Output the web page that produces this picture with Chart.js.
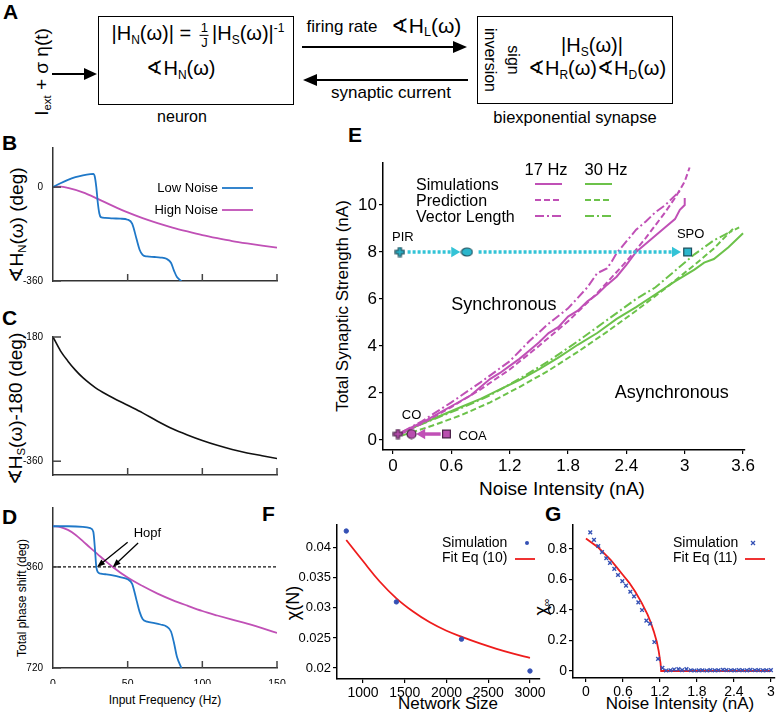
<!DOCTYPE html>
<html>
<head>
<meta charset="utf-8">
<script src="https://cdn.jsdelivr.net/npm/chart.js@4.4.0/dist/chart.umd.min.js"></script>
<style>
body{margin:0;background:#fff;}
#fig{position:relative;width:780px;height:713px;overflow:hidden;font-family:'Liberation Sans',Arial,sans-serif;color:#000;background:#fff;}
canvas{position:absolute;left:0;top:0;}
.t{position:absolute;white-space:nowrap;line-height:1;transform:translate(-50%,-50%);}
.rl{transform:translate(-50%,-50%) rotate(-90deg);}
.rr{transform:translate(-50%,-50%) rotate(90deg);}
.lt{position:absolute;font-weight:bold;font-size:21px;line-height:1;}
sub{font-size:0.6em;vertical-align:-0.3em;line-height:0;}
sup{font-size:0.6em;vertical-align:0.7em;line-height:0;}
.box{position:absolute;border:1.5px solid #000;box-sizing:border-box;}
.frac{display:inline-flex;flex-direction:column;align-items:center;vertical-align:middle;font-size:13px;line-height:1.05;margin:0 3px;}
.frac span:first-child{border-bottom:1px solid #000;padding:0 1px;}
</style>
</head>
<body>
<div id="fig">
  <!-- panel A: block diagram -->
  <div class="lt" style="left:3px;top:1px">A</div>
  <div class="box" style="left:98px;top:16px;width:196px;height:89px"></div>
  <div class="box" style="left:477px;top:16px;width:196px;height:88px"></div>
  <div class="t" style="left:198px;top:35px;font-size:20px">|H<sub>N</sub>(ω)| = <span class="frac"><span>1</span><span>J</span></span>|H<sub>S</sub>(ω)|<sup>-1</sup></div>
  <div class="t" style="left:181px;top:68px;font-size:20px">∢H<sub>N</sub>(ω)</div>
  <div class="t" style="left:182px;top:117px;font-size:16px">neuron</div>
  <div class="t" style="left:342px;top:26px;font-size:17px">firing rate</div>
  <div class="t" style="left:426px;top:25px;font-size:21px">∢H<sub>L</sub>(ω)</div>
  <div class="t" style="left:391px;top:92px;font-size:17px">synaptic current</div>
  <div class="t rr" style="left:490px;top:60px;font-size:16px">inversion</div>
  <div class="t rr" style="left:513px;top:60px;font-size:16px">sign</div>
  <div class="t" style="left:592px;top:45px;font-size:20px">|H<sub>S</sub>(ω)|</div>
  <div class="t" style="left:597px;top:68px;font-size:20px">∢H<sub>R</sub>(ω)∢H<sub>D</sub>(ω)</div>
  <div class="t" style="left:575px;top:117px;font-size:16.5px">biexponential synapse</div>
  <div class="t rl" style="left:41px;top:72px;font-size:19px">I<sub>ext</sub> + σ η(t)</div>
  <svg style="position:absolute;left:0;top:0" width="780" height="120">
    <g stroke="#000" stroke-width="2"><line x1="302" y1="47" x2="455" y2="47"/><line x1="468" y1="80" x2="315" y2="80"/><line x1="52" y1="74" x2="86" y2="74"/></g>
    <g fill="#000"><polygon points="453,41 467,47 453,53"/><polygon points="317,74 303,80 317,86"/><polygon points="84,68 97,74 84,80"/></g>
  </svg>

  <!-- panel letters and axis titles -->
  <div class="lt" style="left:2px;top:132px">B</div>
  <div class="lt" style="left:2px;top:307px">C</div>
  <div class="lt" style="left:2px;top:506px">D</div>
  <div class="lt" style="left:348px;top:124px">E</div>
  <div class="lt" style="left:262px;top:503px">F</div>
  <div class="lt" style="left:545px;top:503px">G</div>
  <div class="t rl" style="left:16px;top:225px;font-size:19px">∢H<sub>N</sub>(ω) (deg)</div>
  <div class="t rl" style="left:15px;top:409px;font-size:19px">∢H<sub>S</sub>(ω)-180 (deg)</div>
  <div class="t rl" style="left:22px;top:598px;font-size:12px">Total phase shift (deg)</div>
  <div class="t" style="left:165px;top:700px;font-size:12px">Input Frequency (Hz)</div>
  <div class="t rl" style="left:342px;top:306px;font-size:17px">Total Synaptic Strength (nA)</div>
  <div class="t" style="left:562px;top:488px;font-size:19px">Noise Intensity (nA)</div>
  <div class="t rl" style="left:293px;top:603px;font-size:18px">χ(N)</div>
  <div class="t" style="left:448px;top:703px;font-size:17px">Network Size</div>
  <div class="t rl" style="left:541px;top:607px;font-size:18px">χ<sub>∞</sub></div>
  <div class="t" style="left:680px;top:703px;font-size:17px">Noise Intensity (nA)</div>
</div>
<script>
// ---- data ----
// B: neuron phase (deg) vs input frequency (Hz)
const freqTicks = [0, 50, 100, 150];
const bTicks = [-360, 0];
const cTicks = [-360, -180];
const dTicks = [360, 720];
const bLowFreq = [0,5,10,15,20,25,27,28,29,30,31,32,35,40,45,50,53,56,58,60,63,68,72,76,79,81,83,86];
const bLowPhase = [0,15,28,38,45,50,51,40,0,-60,-100,-115,-118,-120,-121,-125,-140,-200,-240,-260,-266,-268,-270,-275,-290,-320,-345,-360];
const bHighFreq = [0,5,10,20,30,40,50,60,70,80,90,100,110,120,130,140,150];
const bHighPhase = [0,2,-3,-20,-45,-72,-97,-119,-138,-155,-170,-184,-196,-207,-216,-224,-232];
// C: synapse phase
const cFreq = [0,5,10,15,20,25,30,40,50,60,70,80,90,100,110,120,130,140,150];
const cPhase = [-180,-200,-215,-228,-239,-248,-256,-268,-279,-290,-302,-313,-322,-330,-337,-343,-348,-352,-356];
// D: total phase shift
const dLowFreq = [0,10,20,25,27,28,29,30,32,35,40,45,50,53,56,58,60,63,68,72,76,79,81,83,86];
const dLowPhase = [215,215,217,222,235,290,360,378,384,386,390,396,404,420,480,520,545,555,560,565,572,590,630,680,720];
const dHighFreq = [0,5,10,15,20,25,30,35,40,50,60,70,80,90,100,110,120,130,140,150];
const dHighPhase = [215,218,228,245,268,292,315,338,360,398,428,455,478,498,517,533,548,562,578,595];
const dRefFreq = [0, 150];
const dRefPhase = [360, 360];
const hopfFreq = [29.5, 40];
// E: synaptic strength vs noise intensity
const eXTicks = [0, 0.6, 1.2, 1.8, 2.4, 3, 3.6];
const eYTicks = [0, 2, 4, 6, 8, 10];
const ePurpleSimX = [0.08,0.2,0.35,0.5,0.65,0.8,0.9,1.0,1.1,1.2,1.3,1.4,1.5,1.6,1.7,1.8,1.9,2.0,2.1,2.2,2.3,2.4,2.5,2.6,2.7,2.8,2.9,2.95,3.0,3.0];
const ePurpleSimY = [0.3,0.55,0.85,1.2,1.55,1.9,2.25,2.6,2.85,3.15,3.45,3.8,4.15,4.55,4.8,5.25,5.5,5.9,6.2,6.6,6.95,7.45,8.0,8.35,8.7,9.05,9.4,9.8,10.0,10.3];
const ePurplePredX = [0.08,0.3,0.6,0.9,1.2,1.5,1.8,2.1,2.4,2.6,2.8,2.9,3.0,3.05];
const ePurplePredY = [0.25,0.7,1.4,2.15,3.0,4.0,5.05,6.25,7.6,8.6,9.7,10.3,11.0,11.6];
const ePurpleVecX = [0.1,0.3,0.6,0.9,1.2,1.4,1.6,1.8,2.0,2.1,2.2,2.25,2.3,2.4,2.5,2.6,2.7,2.8,2.9,2.95];
const ePurpleVecY = [0.35,0.8,1.6,2.45,3.35,4.2,4.95,5.6,6.5,7.1,7.3,7.6,7.95,8.45,8.95,9.3,9.7,10.0,10.4,10.6];
const eGreenSimX = [0.1,0.3,0.5,0.7,0.9,1.1,1.3,1.5,1.7,1.9,2.1,2.3,2.5,2.7,2.9,3.1,3.2,3.3,3.45,3.6];
const eGreenSimY = [0.3,0.7,1.05,1.4,1.75,2.15,2.55,3.0,3.5,4.05,4.55,5.15,5.65,6.2,6.75,7.25,7.55,7.7,8.2,8.8];
const eGreenPredX = [0.1,0.4,0.7,1.0,1.3,1.6,1.9,2.2,2.5,2.8,3.1,3.3,3.5];
const eGreenPredY = [0.2,0.6,1.05,1.6,2.25,2.95,3.75,4.6,5.5,6.45,7.45,8.15,9.0];
const eGreenVecX = [0.1,0.4,0.7,1.0,1.3,1.6,1.9,2.2,2.5,2.7,2.9,3.1,3.3,3.56];
const eGreenVecY = [0.35,0.85,1.35,1.9,2.6,3.35,4.2,5.1,6.0,6.5,7.2,7.9,8.5,9.05];
const eSyncX = [0.07, 0.76, 3.03];   // PIR -> SPO markers
const eSyncY = [8, 8, 8];
const eSyncArrow1X = [0.15, 0.63];
const eSyncArrow2X = [0.88, 2.9];
const eCoX = [0.05, 0.19, 0.55];     // CO / COA markers
const eCoY = [0.25, 0.25, 0.25];
const eCoArrowX = [0.49, 0.3];
// F: chi vs network size
const fXTicks = [1000, 1500, 2000, 2500, 3000];
const fYTicks = [0.02, 0.025, 0.03, 0.035, 0.04];
const fSimN = [800, 1400, 2180, 3000];
const fSimChi = [0.0428, 0.031, 0.0248, 0.0195];
const fFitN = [800,1000,1200,1400,1600,1800,2000,2200,2400,2600,2800,3000];
const fFitChi = [0.0413,0.0378,0.0344,0.0316,0.0294,0.0276,0.0262,0.0251,0.0241,0.0232,0.0224,0.0217];
// G: chi_inf vs noise
const gXTicks = [0, 0.6, 1.2, 1.8, 2.4, 3];
const gYTicks = [0, 0.2, 0.4, 0.6, 0.8];
const gSimX = [0.07,0.13,0.2,0.26,0.33,0.39,0.46,0.52,0.59,0.65,0.72,0.78,0.85,0.91,0.98,1.04,1.11,1.17,1.24,1.3,1.37,1.43,1.5,1.56,1.63,1.7,1.76,1.83,1.89,1.96,2.02,2.09,2.15,2.22,2.28,2.35,2.41,2.48,2.54,2.61,2.67,2.74,2.8,2.87,2.93,3.0];
const gSimY = [0.91,0.86,0.82,0.78,0.74,0.71,0.67,0.63,0.59,0.56,0.52,0.49,0.45,0.40,0.33,0.31,0.19,0.08,0.02,0.003,0.005,0.01,0.012,0.006,0.012,0.005,0.003,0.004,0.005,0.003,0.006,0.004,0.005,0.008,0.006,0.005,0.004,0.006,0.005,0.004,0.007,0.005,0.006,0.004,0.005,0.006];
const gFitX = [0,0.1,0.2,0.3,0.4,0.5,0.6,0.7,0.8,0.9,1.0,1.05,1.1,1.15,1.18,1.21,1.22,1.6,2.0,2.5,3.0];
const gFitY = [0.87,0.84,0.81,0.77,0.73,0.68,0.63,0.58,0.52,0.45,0.37,0.32,0.26,0.19,0.13,0.05,0,0,0,0,0];

// ---- style ----
const BLUE = '#1f78c8', PURPLE = '#c050b6', GREEN = '#6cc24a', CYAN = '#33c3d6';
const RED = '#ee1c1c', DOTBLUE = '#3551b5';
const W = 780, H = 713;
const FONT = "'Liberation Sans', Arial, sans-serif";
Chart.defaults.font.family = FONT;
Chart.defaults.color = '#000';

function F(s, w) { return (w || '') + ' ' + s + 'px ' + FONT; }
function pts(xs, ys) { return xs.map((x, i) => ({x: x, y: ys[i]})); }
function newCanvas() {
  const c = document.createElement('canvas');
  c.width = W; c.height = H;
  document.getElementById('fig').appendChild(c);
  return c;
}
function line(c, x1, y1, x2, y2) { c.beginPath(); c.moveTo(x1, y1); c.lineTo(x2, y2); c.stroke(); }
function arrow(c, x1, y1, x2, y2, len, wid) {
  const a = Math.atan2(y2 - y1, x2 - x1);
  line(c, x1, y1, x2 - Math.cos(a) * len * 0.8, y2 - Math.sin(a) * len * 0.8);
  c.beginPath(); c.moveTo(x2, y2);
  c.lineTo(x2 - len * Math.cos(a) + wid / 2 * Math.sin(a), y2 - len * Math.sin(a) - wid / 2 * Math.cos(a));
  c.lineTo(x2 - len * Math.cos(a) - wid / 2 * Math.sin(a), y2 - len * Math.sin(a) + wid / 2 * Math.cos(a));
  c.closePath(); c.fill();
}
function plusImg(fill, stroke, s) {
  const c = document.createElement('canvas'); c.width = c.height = s;
  const g = c.getContext('2d'), a = s / 3 + 0.3, b = 2 * s / 3 - 0.3, m = 1, e = s - 1;
  const p = [[a,m],[b,m],[b,a],[e,a],[e,b],[b,b],[b,e],[a,e],[a,b],[m,b],[m,a],[a,a]];
  g.beginPath(); p.forEach((q, i) => i ? g.lineTo(q[0], q[1]) : g.moveTo(q[0], q[1])); g.closePath();
  g.fillStyle = fill; g.fill(); g.strokeStyle = stroke; g.lineWidth = 1.2; g.stroke();
  return c;
}
function ellipseImg(fill, stroke, w, h) {
  const c = document.createElement('canvas'); c.width = w; c.height = h;
  const g = c.getContext('2d');
  g.beginPath(); g.ellipse(w / 2, h / 2, w / 2 - 1, h / 2 - 1, 0, 0, Math.PI * 2);
  g.fillStyle = fill; g.fill(); g.strokeStyle = stroke; g.lineWidth = 1.2; g.stroke();
  return c;
}

// fixed plot area: chart area lands exactly on the page pixels given
function frame(area, yW, xH) {
  return {left: area.l - yW, top: area.t, right: W - area.r, bottom: H - area.b - xH};
}
function outAxis(min, max, ticks, size, fs, extra) {
  return Object.assign({
    type: 'linear', min: min, max: max,
    afterBuildTicks: s => { s.ticks = ticks.map(v => ({value: v})); },
    afterFit: s => { if (s.isHorizontal()) s.height = size; else s.width = size; },
    grid: {display: true, drawOnChartArea: false, drawTicks: true, tickLength: 4, color: '#000', lineWidth: 1.2},
    border: {display: true, color: '#000', width: 1.5},
    ticks: {font: {size: fs}, color: '#000', padding: 2, autoSkip: false, maxRotation: 0, callback: v => String(v)}
  }, extra || {});
}
function inAxis(min, max, ticks, size, fs, showLabels, extra) {
  return Object.assign({
    type: 'linear', min: min, max: max,
    afterBuildTicks: s => { s.ticks = ticks.map(v => ({value: v})); },
    afterFit: s => { if (s.isHorizontal()) s.height = size; else s.width = size; },
    grid: {display: false},
    border: {display: true, color: '#333', width: 1.5},
    ticks: {font: {size: fs}, color: '#000', padding: 2, autoSkip: false, maxRotation: 0,
            callback: v => showLabels ? String(v) : ''}
  }, extra || {});
}
const innerTicks = {
  id: 'innerTicks',
  afterDraw(ch) {
    const c = ch.ctx, xs = ch.scales.x, ys = ch.scales.y, a = ch.chartArea;
    c.save(); c.strokeStyle = '#444'; c.lineWidth = 1.5;
    xs.ticks.forEach(t => { if (t.value === xs.min) return; const p = xs.getPixelForValue(t.value); line(c, p, a.bottom, p, a.bottom - 7); });
    ys.ticks.forEach(t => { const p = ys.getPixelForValue(t.value); line(c, a.left, p, a.left + 8, p); });
    c.restore();
  }
};
function base(area, yW, xH) {
  return {
    responsive: false, animation: false, events: [],
    layout: {padding: frame(area, yW, xH)},
    plugins: {legend: {display: false}, tooltip: {enabled: false}}
  };
}
function curve(xs, ys, color, width, dash, smooth) {
  return {data: pts(xs, ys), showLine: true, borderColor: color, borderWidth: width || 1.8,
          borderDash: dash || [], pointRadius: 0, tension: 0,
          cubicInterpolationMode: smooth ? 'monotone' : 'default', fill: false};
}

// ---- B ----
(function () {
  const area = {l: 53, r: 277, t: 148, b: 281};
  const o = base(area, 32, 4);
  o.scales = {x: inAxis(0, 150, freqTicks, 4, 10, false), y: inAxis(-360, 150, bTicks, 32, 10, true)};
  new Chart(newCanvas(), {type: 'scatter', data: {datasets: [
    curve(bLowFreq, bLowPhase, BLUE, 1.8, null, true),
    curve(bHighFreq, bHighPhase, PURPLE, 1.8, null, true)
  ]}, options: o, plugins: [innerTicks, {id: 'bLegend', afterDraw(ch) {
    const c = ch.ctx; c.save(); c.font = F(13); c.textAlign = 'right'; c.textBaseline = 'middle'; c.fillStyle = '#000';
    c.fillText('Low Noise', 218, 188); c.fillText('High Noise', 218, 210);
    c.lineWidth = 1.8; c.strokeStyle = BLUE; line(c, 222, 188, 253, 188);
    c.strokeStyle = PURPLE; line(c, 222, 210, 253, 210); c.restore();
  }}]});
})();

// ---- C ----
(function () {
  const area = {l: 53, r: 277, t: 337, b: 475};
  const o = base(area, 32, 4);
  o.scales = {x: inAxis(0, 150, freqTicks, 4, 10, false), y: inAxis(-380, -180, cTicks, 32, 10, true)};
  new Chart(newCanvas(), {type: 'scatter', data: {datasets: [
    curve(cFreq, cPhase, '#111', 1.6, null, true)
  ]}, options: o, plugins: [innerTicks]});
})();

// ---- D ----
(function () {
  const area = {l: 53, r: 277, t: 508, b: 668};
  const o = base(area, 32, 16);
  o.scales = {x: inAxis(0, 150, freqTicks, 16, 10.5, true), y: inAxis(150, 720, dTicks, 32, 10, true, {reverse: true})};
  new Chart(newCanvas(), {type: 'scatter', data: {datasets: [
    curve(dLowFreq, dLowPhase, BLUE, 1.8, null, true),
    curve(dHighFreq, dHighPhase, PURPLE, 1.8, null, true),
    curve(dRefFreq, dRefPhase, '#111', 1.2, [3, 2])
  ]}, options: o, plugins: [innerTicks, {id: 'hopf', afterDraw(ch) {
    const c = ch.ctx, xs = ch.scales.x, ys = ch.scales.y;
    c.save(); c.fillStyle = '#000'; c.strokeStyle = '#000'; c.lineWidth = 1.3;
    c.font = F(13); c.textBaseline = 'middle'; c.textAlign = 'left';
    c.fillText('Hopf', xs.getPixelForValue(54), ys.getPixelForValue(240));
    arrow(c, xs.getPixelForValue(50), ys.getPixelForValue(272), xs.getPixelForValue(hopfFreq[0]), ys.getPixelForValue(dRefPhase[0]), 8, 6);
    arrow(c, xs.getPixelForValue(57), ys.getPixelForValue(275), xs.getPixelForValue(hopfFreq[1]), ys.getPixelForValue(dRefPhase[0]), 8, 6);
    c.restore();
  }}]});
})();

// ---- E ----
(function () {
  const area = {l: 383, r: 745, t: 163, b: 450};
  const o = base(area, 30, 24);
  o.scales = {x: outAxis(-0.103, 3.62, eXTicks, 24, 17), y: outAxis(-0.43, 11.79, eYTicks, 30, 17)};
  const cyanPlus = plusImg('#2bb6cc', '#1d4f5c', 11), purplePlus = plusImg('#b94faf', '#4a2148', 11);
  const cyanDot = ellipseImg('#2bb6cc', '#1d4f5c', 13, 10), purpleDot = ellipseImg('#b94faf', '#4a2148', 11, 11);
  const markers = (xs, ys, fill, stroke, plus, dot) => ({
    data: pts(xs, ys), pointStyle: [plus, dot, 'rect'], pointRadius: [6, 6, 5.5],
    backgroundColor: fill, borderColor: stroke, borderWidth: 1.2, showLine: false
  });
  const headed = (xs, y, color, width, dash, rot) => ({
    data: pts(xs, xs.map(() => y)), showLine: true, borderColor: color, backgroundColor: color,
    borderWidth: width, borderDash: dash, pointStyle: 'triangle', pointRotation: rot,
    pointRadius: [0, 6], pointBorderWidth: 0
  });
  new Chart(newCanvas(), {type: 'scatter', data: {datasets: [
    markers(eSyncX, eSyncY, '#2bb6cc', '#1d4f5c', cyanPlus, cyanDot),
    markers(eCoX, eCoY, '#b94faf', '#4a2148', purplePlus, purpleDot),
    headed(eSyncArrow1X, eSyncY[0], CYAN, 3.5, [3, 2], 90),
    headed(eSyncArrow2X, eSyncY[0], CYAN, 3.5, [3, 2], 90),
    headed(eCoArrowX, eCoY[0], PURPLE, 3.5, [], -90),
    curve(ePurpleSimX, ePurpleSimY, PURPLE, 2),
    curve(ePurplePredX, ePurplePredY, PURPLE, 2, [6, 3]),
    curve(ePurpleVecX, ePurpleVecY, PURPLE, 2, [9, 3, 2, 3]),
    curve(eGreenSimX, eGreenSimY, GREEN, 2),
    curve(eGreenPredX, eGreenPredY, GREEN, 2, [6, 3]),
    curve(eGreenVecX, eGreenVecY, GREEN, 2, [9, 3, 2, 3])
  ]}, options: o, plugins: [{id: 'eText', afterDraw(ch) {
    const c = ch.ctx, xs = ch.scales.x, ys = ch.scales.y;
    const X = v => xs.getPixelForValue(v), Y = v => ys.getPixelForValue(v);
    c.save(); c.fillStyle = '#000'; c.textBaseline = 'middle';
    // legend
    c.font = F(16.5); c.textAlign = 'center';
    c.fillText('17 Hz', 546, 170); c.fillText('30 Hz', 606, 170);
    c.font = F(16); c.textAlign = 'left';
    const rows = [['Simulations', []], ['Prediction', [6, 3]], ['Vector Length', [9, 3, 2, 3]]];
    rows.forEach((r, i) => {
      const y = 186 + i * 16;
      c.fillText(r[0], 416, y);
      c.lineWidth = 2; c.setLineDash(r[1]);
      c.strokeStyle = PURPLE; line(c, 535, y - 2, 562, y - 2);
      c.strokeStyle = GREEN; line(c, 585, y - 2, 612, y - 2);
      c.setLineDash([]);
    });
    // annotations
    c.font = F(13); c.textAlign = 'center';
    c.fillText('PIR', X(eSyncX[0]) + 3, Y(eSyncY[0]) - 15);
    c.fillText('SPO', X(eSyncX[2]) + 3, Y(eSyncY[0]) - 18);
    c.fillText('CO', X(eCoX[1]), Y(eCoY[0]) - 19);
    c.textAlign = 'left';
    c.fillText('COA', X(eCoX[2]) + 12, Y(eCoY[0]) + 2);
    c.font = F(18);
    c.fillText('Synchronous', X(0.6), Y(5.75));
    c.fillText('Asynchronous', X(2.28), Y(2.0));
    c.restore();
  }}]});
})();

// ---- F ----
(function () {
  const area = {l: 337, r: 540, t: 525, b: 679};
  const o = base(area, 42, 20);
  o.scales = {x: outAxis(689, 3120, fXTicks, 20, 14), y: outAxis(0.01817, 0.0438, fYTicks, 42, 13)};
  new Chart(newCanvas(), {type: 'scatter', data: {datasets: [
    {data: pts(fSimN, fSimChi), pointRadius: 2.2, backgroundColor: DOTBLUE, borderColor: DOTBLUE, showLine: false},
    Object.assign(curve(fFitN, fFitChi, RED, 1.8), {tension: 0.4})
  ]}, options: o, plugins: [{id: 'fLeg', afterDraw(ch) {
    const c = ch.ctx; c.save(); c.fillStyle = '#000'; c.font = F(14); c.textBaseline = 'middle'; c.textAlign = 'left';
    c.fillText('Simulation', 442, 543); c.fillText('Fit Eq (10)', 442, 558);
    c.fillStyle = DOTBLUE; c.beginPath(); c.arc(527, 543, 2, 0, Math.PI * 2); c.fill();
    c.strokeStyle = RED; c.lineWidth = 1.8; line(c, 515, 559, 535, 559);
    c.restore();
  }}]});
})();

// ---- G ----
(function () {
  const area = {l: 573, r: 775, t: 525, b: 678};
  const o = base(area, 30, 20);
  o.scales = {x: outAxis(-0.21, 3.06, gXTicks, 20, 14), y: outAxis(-0.046, 0.958, gYTicks, 30, 14)};
  new Chart(newCanvas(), {type: 'scatter', data: {datasets: [
    {data: pts(gSimX, gSimY), pointStyle: 'crossRot', pointRadius: 2.6, borderColor: DOTBLUE, borderWidth: 1.4, showLine: false},
    curve(gFitX, gFitY, RED, 1.8)
  ]}, options: o, plugins: [{id: 'gLeg', afterDraw(ch) {
    const c = ch.ctx; c.save(); c.fillStyle = '#000'; c.font = F(14); c.textBaseline = 'middle'; c.textAlign = 'left';
    c.fillText('Simulation', 673, 543); c.fillText('Fit Eq (11)', 673, 558);
    c.strokeStyle = DOTBLUE; c.lineWidth = 1.3; line(c, 751, 541, 755, 545); line(c, 755, 541, 751, 545);
    c.strokeStyle = RED; c.lineWidth = 1.8; line(c, 745, 559, 765, 559);
    c.restore();
  }}]});
})();
</script>
</body>
</html>
